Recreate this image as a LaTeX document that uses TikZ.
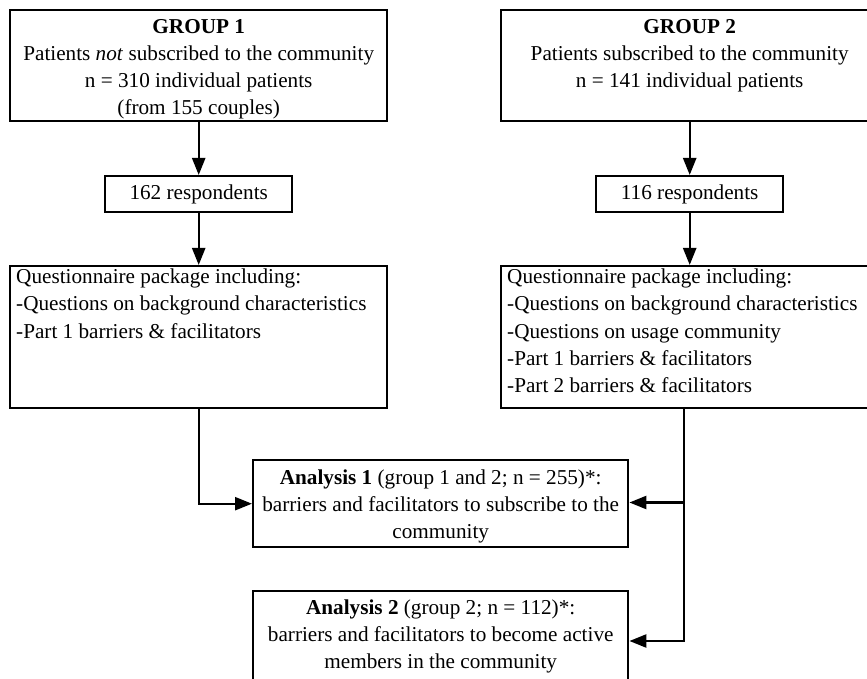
\documentclass[tikz,border=0pt]{standalone}
\usepackage{fontspec}
\setmainfont{Liberation Serif}
\usetikzlibrary{arrows.meta}
\newcommand{\mytopbox}[3]{\parbox[c][#1][t]{#2}{#3}}
\tikzset{
  boxed/.style={draw, line width=1.2pt, inner xsep=3pt, inner ysep=0pt, anchor=north west,
    font=\fontsize{10.6}{13.6}\selectfont},
  smallbox/.style={draw, line width=1.2pt, inner sep=0pt, anchor=north west,
    minimum width=93.5pt, minimum height=18pt, font=\fontsize{10.6}{13.6}\selectfont},
  conn/.style={line width=1.2pt, -{Triangle[length=8.5pt,width=6.5pt]}},
  plainline/.style={line width=1.2pt}
}
\begin{document}
\begin{tikzpicture}[x=0.5pt,y=-0.5pt]
\useasboundingbox (0,0) rectangle (867,679);
\clip (0,0) rectangle (867,679);

\node[boxed] (g1) at (9,9) {\mytopbox{55.5pt}{182.5pt}{\centering\rule{0pt}{11.5pt}\textbf{GROUP 1}\\
  Patients \textit{not} subscribed to the community\\
  n = 310 individual patients\\
  (from 155 couples)}};
\node[boxed] (g2) at (500,9) {\mytopbox{55.5pt}{182.5pt}{\centering\rule{0pt}{11.5pt}\textbf{GROUP 2}\\
  Patients subscribed to the community\\
  n = 141 individual patients}};

\node[smallbox] (r1) at (104,175) {162 respondents};
\node[smallbox] (r2) at (595,175) {116 respondents};

\node[boxed] (q1) at (9,265) {\mytopbox{71pt}{182.5pt}{\raggedright\rule{0pt}{8.75pt}Questionnaire package including:\\
  -Questions on background characteristics\\
  -Part 1 barriers \& facilitators}};
\node[boxed] (q2) at (500,265) {\mytopbox{71pt}{182.5pt}{\raggedright\rule{0pt}{8.75pt}Questionnaire package including:\\
  -Questions on background characteristics\\
  -Questions on usage community\\
  -Part 1 barriers \& facilitators\\
  -Part 2 barriers \& facilitators}};

\node[boxed] (a1) at (252,459) {\mytopbox{43.5pt}{181.5pt}{\centering\rule{0pt}{12pt}\textbf{Analysis 1} (group 1 and 2; n = 255)*:\\
  barriers and facilitators to subscribe to the\\
  community}};
\node[boxed] (a2) at (252,590) {\mytopbox{50pt}{181.5pt}{\centering\rule{0pt}{11.5pt}\textbf{Analysis 2} (group 2; n = 112)*:\\
  barriers and facilitators to become active\\
  members in the community}};

\draw[conn] (g1.south) -- (r1.north);
\draw[conn] (r1.south) -- (q1.north);
\draw[conn] (g2.south) -- (r2.north);
\draw[conn] (r2.south) -- (q2.north);
\draw[conn] (q1.south) |- (a1.west);

\coordinate (jr) at (684,502.5);
\coordinate (jb) at (684,641);
\draw[conn] (q2.south -| jr) -- (jb) -- (jb -| a2.east);
\draw[conn] (jr) -- (jr -| a1.east);
\end{tikzpicture}
\end{document}
